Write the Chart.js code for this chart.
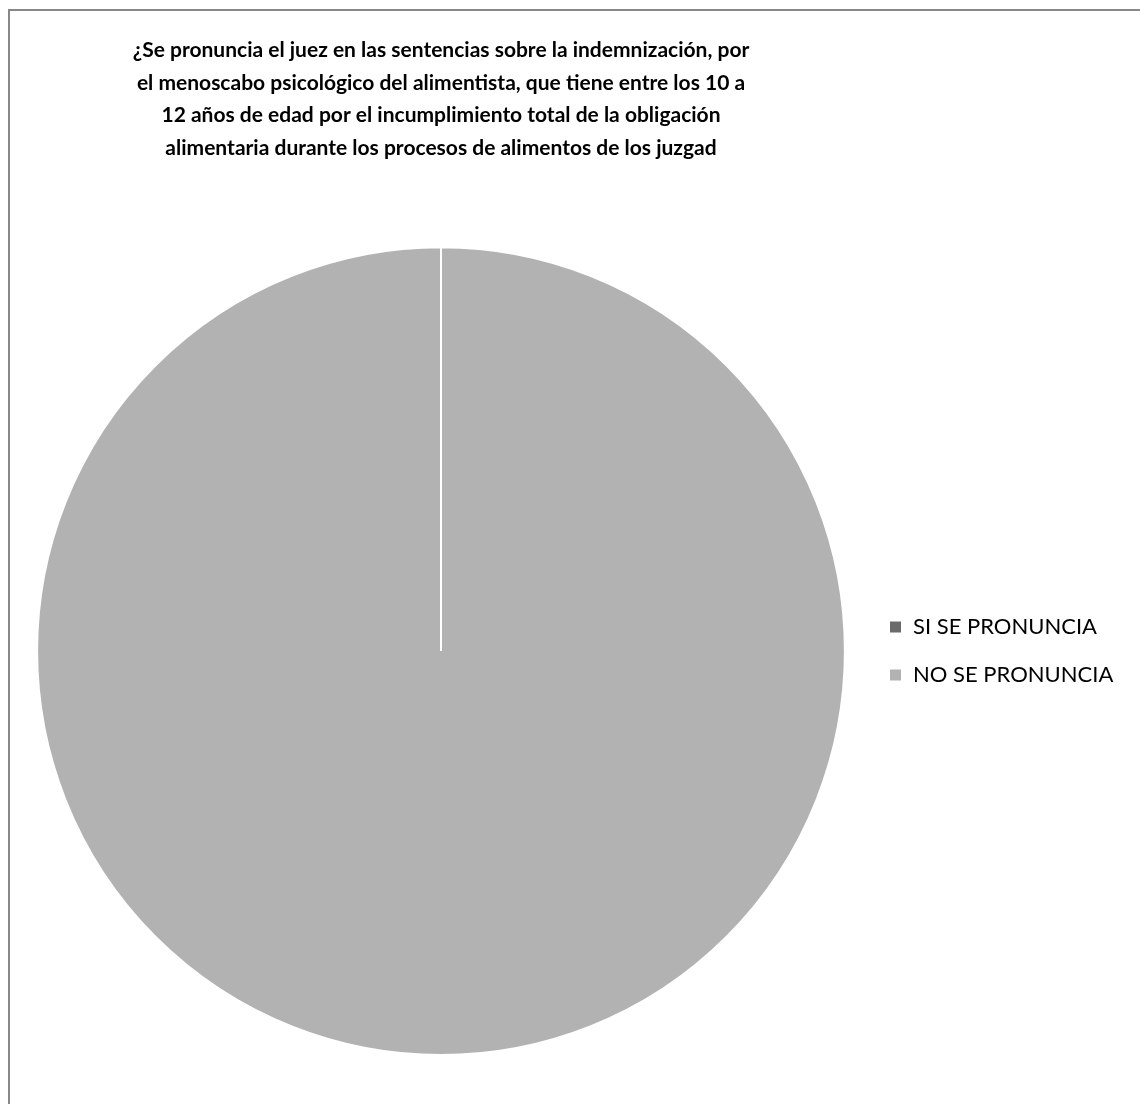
<!DOCTYPE html>
<html>
<head>
<meta charset="utf-8">
<script src="https://cdn.jsdelivr.net/npm/chart.js@4/dist/chart.umd.min.js"></script>
<style>
  html, body { margin: 0; padding: 0; background: #fff; overflow: hidden; }
  #frame {
    position: absolute; left: 8px; top: 9px;
    width: 1200px; height: 1200px;
    border: 2px solid #888;
  }
  #chart { position: absolute; left: 0; top: 0; }
</style>
</head>
<body>
<div id="frame"></div>
<canvas id="chart" width="1140" height="1104"></canvas>
<script>
// --- Data ---
const titleLines = [
  "¿Se pronuncia el juez en las sentencias sobre la indemnización, por",
  "el menoscabo psicológico del alimentista, que tiene entre los 10 a",
  "12 años de edad por el incumplimiento total de la obligación",
  "alimentaria durante los procesos de alimentos de los juzgad"
];
const categories = ["SI SE PRONUNCIA", "NO SE PRONUNCIA"];
const answers = [0, 100];
const sliceColors = ["#6a6a6a", "#b2b2b2"];

// --- Layout helpers ---
const legendFont = { family: "Lato", size: 22 };
const boxSize = 13;
const legendPad = 26;
const legendBoxX = 889;
const pieCenterX = 441;

// width of the longest legend label so the legend lands where it should
const measure = document.createElement("canvas").getContext("2d");
measure.font = `${legendFont.size}px ${legendFont.family}`;
const textWidth = Math.max(...categories.map((c) => measure.measureText(c).width));
const colWidth = boxSize + legendFont.size / 2 + textWidth;
// chart.js adds 10px to a vertical legend's width
const padRight = 1140 - legendBoxX - colWidth - 10;
const padLeft = 2 * pieCenterX - (legendBoxX - legendPad);

new Chart(document.getElementById("chart"), {
  type: "pie",
  data: {
    labels: categories,
    datasets: [
      {
        data: answers,
        backgroundColor: sliceColors,
        borderColor: "#ffffff",
        borderWidth: 2,
      },
    ],
  },
  options: {
    responsive: false,
    devicePixelRatio: 1,
    animation: false,
    layout: { padding: { top: 0, bottom: 48, left: padLeft, right: padRight } },
    plugins: {
      title: {
        display: true,
        fullSize: false,
        text: titleLines,
        color: "#000",
        font: { family: "Lato", size: 21, weight: "bold", lineHeight: 1.55 },
        padding: { top: 34, bottom: 82 },
      },
      legend: {
        position: "right",
        fullSize: false,
        labels: {
          color: "#000",
          font: legendFont,
          boxWidth: boxSize,
          boxHeight: boxSize,
          padding: legendPad,
        },
      },
      tooltip: { enabled: false },
    },
  },
});
</script>
</body>
</html>
